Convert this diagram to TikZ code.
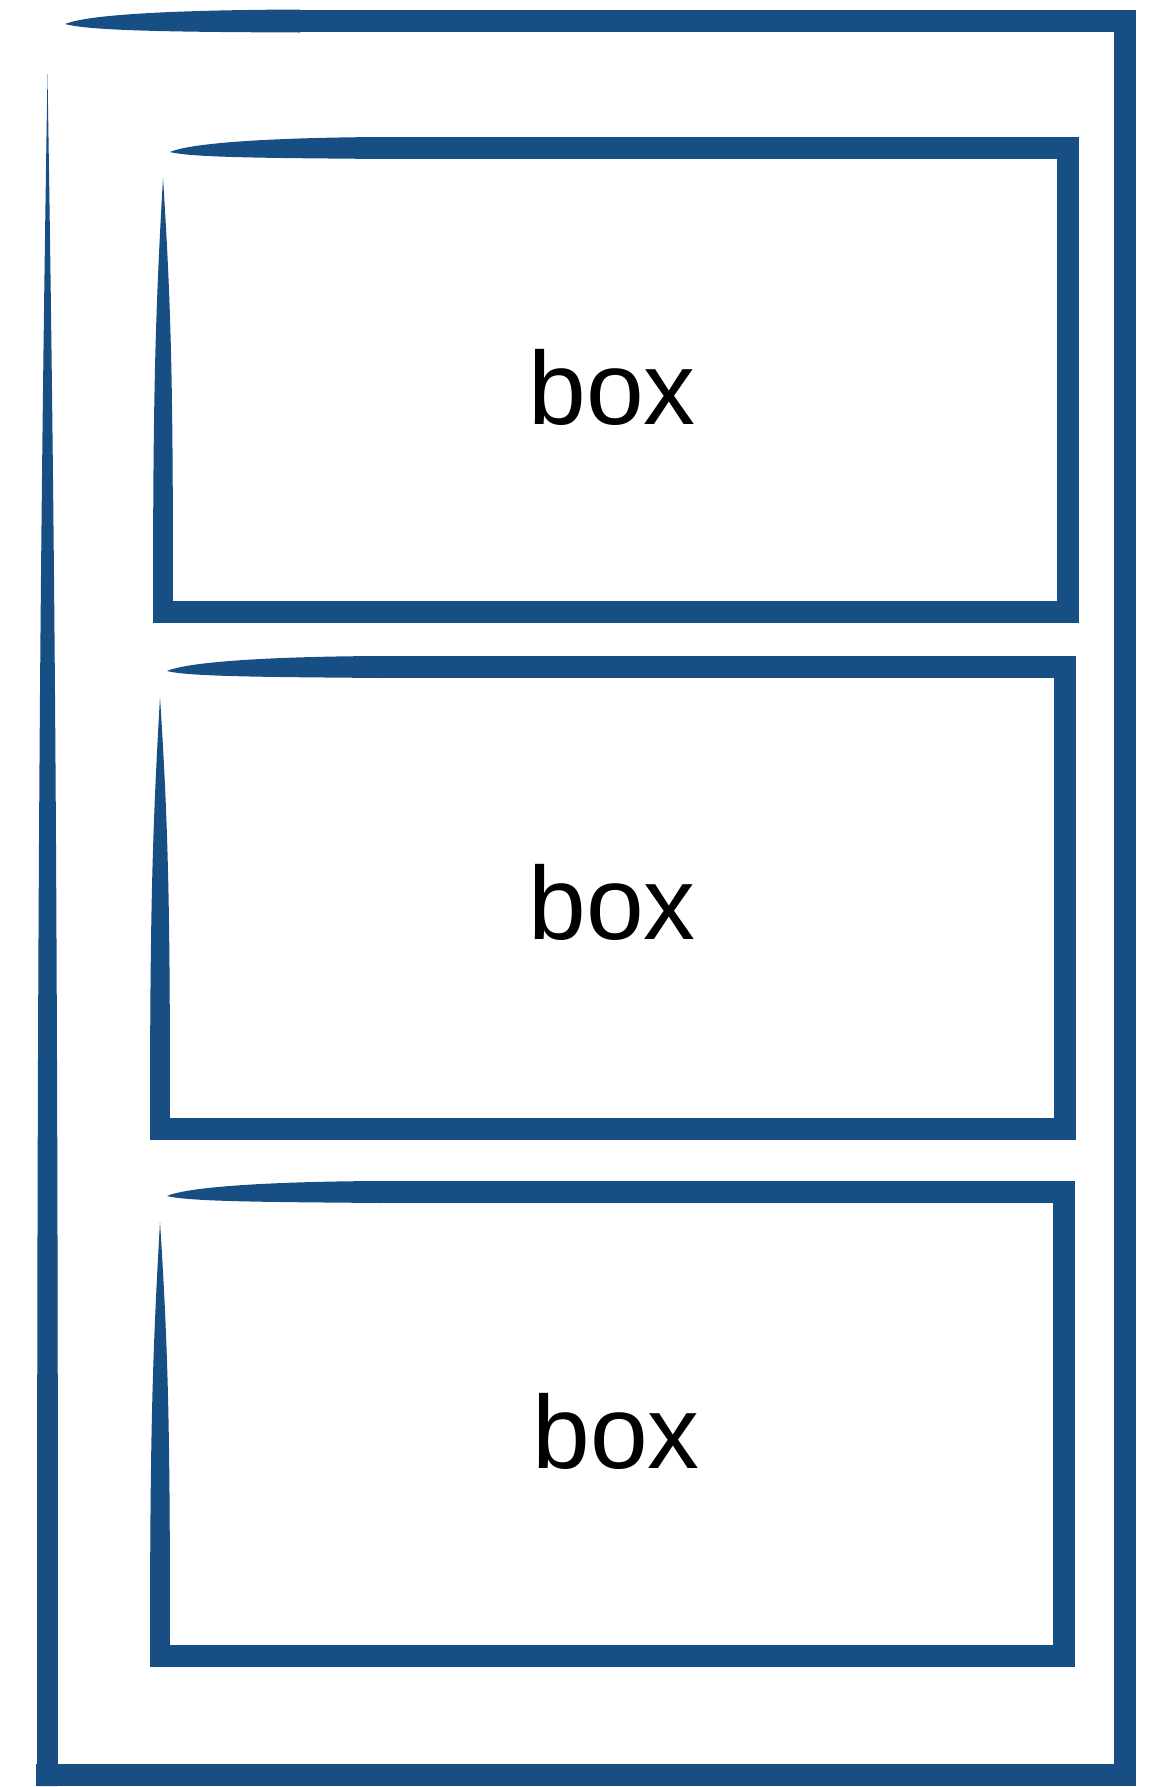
\documentclass[tikz,border=0pt]{standalone}
\usepackage{fontspec}
\setmainfont{Liberation Sans}
\definecolor{sketchblue}{RGB}{23,79,133}
\begin{document}
\begin{tikzpicture}[x=0.01cm,y=-0.01cm,
  edge/.style={draw=sketchblue,line width=6.4pt,line join=miter},
  taper/.style={fill=sketchblue},
  boxlabel/.style={font=\fontsize{29.5}{35}\selectfont,text=black,inner sep=0pt}]
  \useasboundingbox (0,0) rectangle (1153,1787);

  % outer frame
  \draw[edge] (300,21) -- (1125,21) -- (1125,1775) -- (36,1775);
  \fill[taper] (65,24) .. controls (90,14) and (180,10) .. (300,9.5) -- (300,32.5)
    .. controls (180,32) and (90,31) .. (65,24) -- cycle;
  \fill[taper] (47.5,74) .. controls (56,600) and (58,1000) .. (58,1786) -- (37,1786)
    .. controls (37,1000) and (39,600) .. (47.5,74) -- cycle;

  % inner boxes
  \foreach \n/\xa/\ya/\xb/\yb/\tx/\ty in {1/163/148/1068/612/612/387,
                                          2/160/667/1065/1129/612/902,
                                          3/160/1192/1064/1656/616/1431} {
    \draw[edge] (\xa+220,\ya) -- (\xb,\ya) -- (\xb,\yb) -- (\xa-10,\yb);
    \fill[taper] (\xa+7,\ya+4) .. controls (\xa+30,\ya-6) and (\xa+120,\ya-10.5) .. (\xa+220,\ya-11)
      -- (\xa+220,\ya+11) .. controls (\xa+120,\ya+10) and (\xa+30,\ya+10) .. (\xa+7,\ya+4) -- cycle;
    \fill[taper] (\xa,\ya+30) .. controls (\xa+9,\ya+170) and (\xa+10,\ya+250) .. (\xa+10,\yb+10)
      -- (\xa-10,\yb+10) .. controls (\xa-10,\ya+250) and (\xa-8,\ya+170) .. (\xa,\ya+30) -- cycle;
    \node[boxlabel] (box\n) at (\tx,\ty) {box};
  }
\end{tikzpicture}
\end{document}
